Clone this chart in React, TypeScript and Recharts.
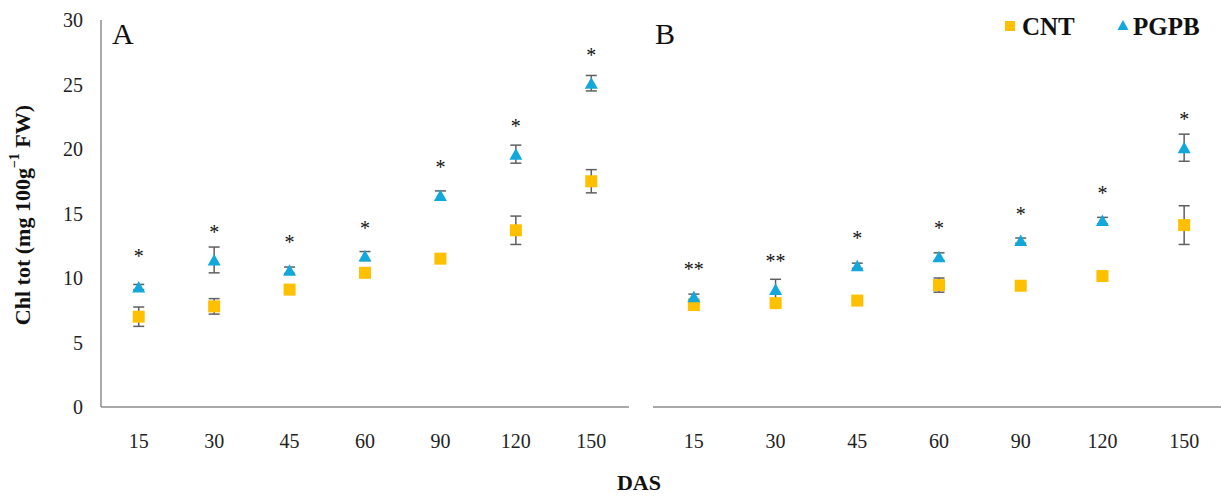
import React from "react";
import { ComposedChart, Scatter, XAxis, YAxis, ErrorBar } from "recharts";

// days after sowing
const days = ["15", "30", "45", "60", "90", "120", "150"];
const yTicks = [0, 5, 10, 15, 20, 25, 30];

// panel A
const cntA = [7.0, 7.8, 9.1, 10.4, 11.5, 13.7, 17.5];
const cntAErr = [0.75, 0.6, 0.1, 0.1, 0.1, 1.1, 0.9];
const pgpbA = [9.3, 11.4, 10.6, 11.7, 16.4, 19.6, 25.1];
const pgpbAErr = [0.2, 1.0, 0.25, 0.35, 0.35, 0.7, 0.6];
const sigA = ["*", "*", "*", "*", "*", "*", "*"];
const sigAPos = [12.0, 13.9, 13.1, 14.2, 18.9, 22.1, 27.6];

// panel B
const cntB = [7.9, 8.05, 8.25, 9.45, 9.4, 10.15, 14.1];
const cntBErr = [0.1, 0.2, 0.1, 0.55, 0.1, 0.2, 1.5];
const pgpbB = [8.55, 9.1, 10.95, 11.65, 12.9, 14.45, 20.1];
const pgpbBErr = [0.2, 0.8, 0.2, 0.3, 0.2, 0.25, 1.05];
const sigB = ["**", "**", "*", "*", "*", "*", "*"];
const sigBPos = [11.0, 11.6, 13.4, 14.2, 15.3, 16.9, 22.6];

const CNT_COLOR = "#FFC000";
const PGPB_COLOR = "#12A8DC";
const AXIS_COLOR = "#8c8c8c";
const ERR_COLOR = "#5f5f5f";
const FONT = "'Liberation Serif', 'Times New Roman', serif";

const buildRows = (
  cnt: number[],
  cntErr: number[],
  pgpb: number[],
  pgpbErr: number[],
  sig: string[],
  sigPos: number[]
) =>
  days.map((d, i) => ({
    das: d,
    cnt: cnt[i],
    cntErr: cntErr[i],
    pgpb: pgpb[i],
    pgpbErr: pgpbErr[i],
    sig: sig[i],
    sigPos: sigPos[i],
  }));

const rowsA = buildRows(cntA, cntAErr, pgpbA, pgpbAErr, sigA, sigAPos);
const rowsB = buildRows(cntB, cntBErr, pgpbB, pgpbBErr, sigB, sigBPos);

const Square = (props: any) => {
  const { cx, cy } = props;
  if (cx == null || cy == null) return null;
  return <rect x={cx - 6} y={cy - 6} width={12} height={12} fill={CNT_COLOR} />;
};

const Triangle = (props: any) => {
  const { cx, cy } = props;
  if (cx == null || cy == null) return null;
  return (
    <polygon
      points={`${cx},${cy - 6} ${cx + 6.5},${cy + 5.5} ${cx - 6.5},${cy + 5.5}`}
      fill={PGPB_COLOR}
    />
  );
};

const Star = (props: any) => {
  const { cx, cy, payload } = props;
  if (cx == null || cy == null) return null;
  return (
    <text
      x={cx}
      y={cy + 11}
      textAnchor="middle"
      fontFamily={FONT}
      fontSize={20}
      fill="#111"
    >
      {payload.sig}
    </text>
  );
};

type PanelProps = {
  rows: any[];
  width: number;
  margin: { top: number; right: number; bottom: number; left: number };
  yAxisWidth: number;
  showYTicks: boolean;
};

function Panel({ rows, width, margin, yAxisWidth, showYTicks }: PanelProps) {
  return (
    <ComposedChart width={width} height={498} data={rows} margin={margin}>
      <XAxis
        dataKey="das"
        type="category"
        scale="band"
        height={60}
        tickLine={false}
        tickSize={0}
        tickMargin={27}
        axisLine={{ stroke: AXIS_COLOR, strokeWidth: 1.5 }}
        tick={{ fontFamily: FONT, fontSize: 20, fill: "#222" }}
      />
      <YAxis
        type="number"
        domain={[0, 30]}
        ticks={yTicks}
        width={yAxisWidth}
        tickLine={false}
        tickSize={0}
        tickMargin={18}
        axisLine={{ stroke: AXIS_COLOR, strokeWidth: 1.5 }}
        tick={showYTicks ? { fontFamily: FONT, fontSize: 20, fill: "#222" } : false}
      />
      <Scatter dataKey="cnt" shape={Square} isAnimationActive={false}>
        <ErrorBar dataKey="cntErr" direction="y" width={5.5} stroke={ERR_COLOR} strokeWidth={1.5} />
      </Scatter>
      <Scatter dataKey="pgpb" shape={Triangle} isAnimationActive={false}>
        <ErrorBar dataKey="pgpbErr" direction="y" width={5.5} stroke={ERR_COLOR} strokeWidth={1.5} />
      </Scatter>
      <Scatter dataKey="sigPos" shape={Star} isAnimationActive={false} />
    </ComposedChart>
  );
}

export default function App() {
  return (
    <div
      style={{
        position: "absolute",
        left: 0,
        top: 0,
        width: 1221,
        height: 498,
        overflow: "hidden",
        background: "#fff",
      }}
    >
      <div style={{ position: "absolute", left: 0, top: 0 }}>
        <Panel
          rows={rowsA}
          width={640}
          margin={{ top: 20, right: 11, bottom: 31, left: 41 }}
          yAxisWidth={60}
          showYTicks
        />
      </div>
      <div style={{ position: "absolute", left: 640, top: 0 }}>
        <Panel
          rows={rowsB}
          width={585}
          margin={{ top: 20, right: 0, bottom: 31, left: 13 }}
          yAxisWidth={0}
          showYTicks={false}
        />
      </div>
      <svg
        width={1221}
        height={498}
        style={{ position: "absolute", left: 0, top: 0, pointerEvents: "none" }}
        fontFamily={FONT}
      >
        <text
          x={22}
          y={215}
          transform="rotate(-90, 22, 215)"
          textAnchor="middle"
          dominantBaseline="central"
          fontSize={22}
          fontWeight="bold"
          fill="#111"
        >
          Chl tot (mg 100g
          <tspan dy={-8} fontSize={14}>−1</tspan>
          <tspan dy={8}> FW)</tspan>
        </text>
        <text x={639} y={490} textAnchor="middle" fontSize={22} fontWeight="bold" fill="#111">
          DAS
        </text>
        <text x={112} y={44} fontSize={30} fill="#111">A</text>
        <text x={655} y={44} fontSize={30} fill="#111">B</text>
        <rect x={1005} y={21} width={10} height={10} fill={CNT_COLOR} />
        <text x={1022} y={35} fontSize={25} fontWeight="bold" fill="#111">CNT</text>
        <polygon points="1123,20 1128.5,30 1117.5,30" fill={PGPB_COLOR} />
        <text x={1133} y={35} fontSize={25} fontWeight="bold" fill="#111">PGPB</text>
      </svg>
    </div>
  );
}
